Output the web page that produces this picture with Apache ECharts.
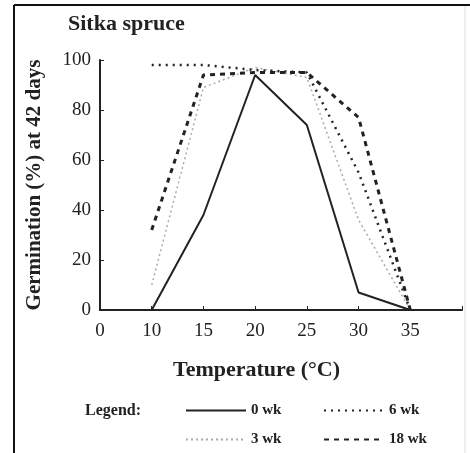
<!DOCTYPE html>
<html>
<head>
<meta charset="utf-8">
<script src="https://cdn.jsdelivr.net/npm/echarts@6/dist/echarts.min.js"></script>
<style>
  html, body { margin: 0; padding: 0; background: #fff; }
  #chart { width: 470px; height: 453px; }
</style>
</head>
<body>
<div id="chart"></div>
<script>
// --- data ---
var categories = ['0', '10', '15', '20', '25', '30', '35', ''];
var temps = ['10', '15', '20', '25', '30', '35'];
var wk0 = [0, 38, 94, 74, 7, 0];
var wk3 = [10, 89, 97, 93, 36, 0];
var wk6 = [98, 98, 96, 95, 55, 0];
var wk18 = [32, 94, 95, 95, 77, 0];
var yTicks = [0, 20, 40, 60, 80, 100];

var serif = 'Liberation Serif';

function pairs(vals) {
    return temps.map(function (t, i) { return [t, vals[i]]; });
}

var legendText = { fontFamily: serif, fontSize: 15, fontWeight: 'bold', color: '#222' };

var chart = echarts.init(document.getElementById('chart'));

chart.setOption({
    animation: false,
    backgroundColor: '#fff',
    title: [
        { text: 'Sitka spruce', left: 63, top: 8,
          textStyle: { fontFamily: serif, fontSize: 22, fontWeight: 'bold', color: '#222' } },
        { text: 'Temperature (°C)', left: 168, top: 354,
          textStyle: { fontFamily: serif, fontSize: 22, fontWeight: 'bold', color: '#222' } },
        { text: 'Legend:', left: 80, top: 398,
          textStyle: { fontFamily: serif, fontSize: 16, fontWeight: 'bold', color: '#222' } }
    ],
    grid: { left: 100, right: 8, top: 60, bottom: 143, containLabel: false },
    xAxis: {
        type: 'category', data: categories, boundaryGap: false,
        axisLine: { lineStyle: { color: '#222', width: 2 } },
        axisTick: { inside: true, length: 4, alignWithLabel: true, lineStyle: { color: '#222' } },
        axisLabel: { fontFamily: serif, fontSize: 19, color: '#222', margin: 12, interval: 0 },
        splitLine: { show: false }
    },
    yAxis: {
        type: 'value', min: 0, max: 100, interval: 20,
        name: 'Germination (%) at 42 days', nameLocation: 'middle', nameGap: 55,
        nameTextStyle: { fontFamily: serif, fontSize: 21, fontWeight: 'bold', color: '#222' },
        axisLine: { show: true, lineStyle: { color: '#222', width: 2 } },
        axisTick: { show: true, inside: true, length: 4, lineStyle: { color: '#222' } },
        axisLabel: { fontFamily: serif, fontSize: 19, color: '#222', margin: 9,
                     formatter: function (v) { return yTicks.indexOf(v) >= 0 ? String(v) : ''; } },
        splitLine: { show: false }
    },
    legend: [
        { orient: 'vertical', left: 180, top: 398, itemWidth: 60, itemHeight: 10, itemGap: 14,
          data: ['0 wk', '3 wk'], textStyle: legendText, itemStyle: { opacity: 0 } },
        { orient: 'vertical', left: 318, top: 398, itemWidth: 60, itemHeight: 10, itemGap: 14,
          data: ['6 wk', '18 wk'], textStyle: legendText, itemStyle: { opacity: 0 } }
    ],
    series: [
        { name: '0 wk', type: 'line', data: pairs(wk0), symbol: 'none',
          lineStyle: { color: '#222', width: 2, type: 'solid' }, itemStyle: { color: '#222' } },
        { name: '3 wk', type: 'line', data: pairs(wk3), symbol: 'none',
          lineStyle: { color: '#aaa', width: 1.5, type: [2, 3] }, itemStyle: { color: '#aaa' } },
        { name: '6 wk', type: 'line', data: pairs(wk6), symbol: 'none',
          lineStyle: { color: '#222', width: 2.5, type: [2, 5] }, itemStyle: { color: '#222' } },
        { name: '18 wk', type: 'line', data: pairs(wk18), symbol: 'none',
          lineStyle: { color: '#222', width: 3, type: [5, 5] }, itemStyle: { color: '#222' } }
    ],
    graphic: [
        { type: 'line', shape: { x1: 14, y1: 5, x2: 14, y2: 453 }, style: { stroke: '#111', lineWidth: 2 } },
        { type: 'line', shape: { x1: 14, y1: 5, x2: 470, y2: 5 }, style: { stroke: '#111', lineWidth: 2 } },
        { type: 'line', shape: { x1: 465, y1: 6, x2: 465, y2: 453 }, style: { stroke: '#ddd', lineWidth: 1 } }
    ]
});
</script>
</body>
</html>
